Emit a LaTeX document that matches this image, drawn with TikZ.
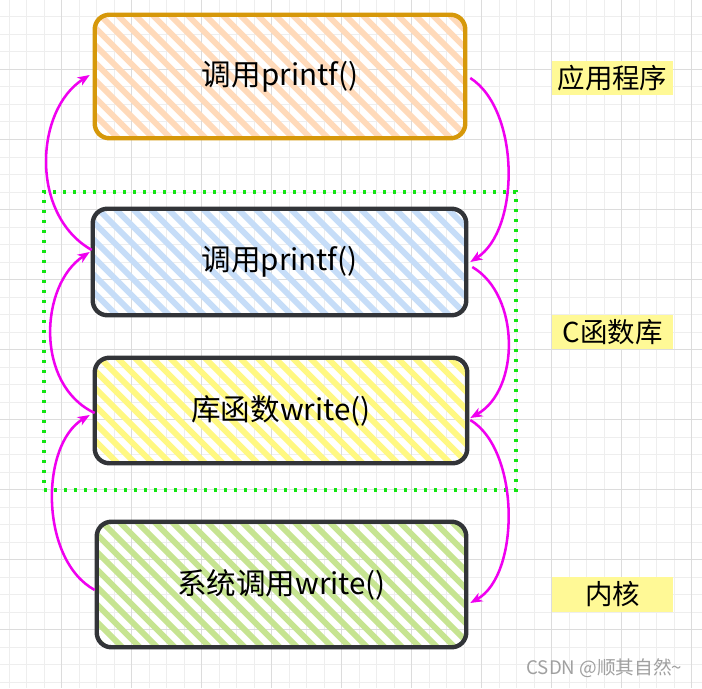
\documentclass[tikz,border=0pt]{standalone}
\usepackage{fontspec}
\setmainfont{Noto Sans CJK SC}
\usetikzlibrary{calc,arrows.meta}
\definecolor{gridminor}{RGB}{238,238,238}
\definecolor{gridmajor}{RGB}{220,220,220}
\definecolor{hatchO}{RGB}{255,218,186}
\definecolor{hatchB}{RGB}{198,221,248}
\definecolor{hatchY}{RGB}{255,248,130}
\definecolor{hatchG}{RGB}{198,228,145}
\definecolor{edgeO}{RGB}{214,152,10}
\definecolor{edgeD}{RGB}{50,52,56}
\definecolor{flowM}{RGB}{240,0,240}
\definecolor{dotG}{RGB}{20,228,20}
\definecolor{tagY}{RGB}{255,249,150}
\definecolor{markG}{RGB}{160,160,160}
\newcommand{\hatchfill}[2]{%
  \begin{scope}
    \clip[rounded corners=11] (#1.north west) rectangle (#1.south east);
    \foreach \k in {0,...,32}
      \draw[#2, line width=4.3pt] ($(#1.north west)+({-140+17.5*\k},-5)$) -- ++(160,160);
  \end{scope}}
\begin{document}
\begin{tikzpicture}[x=0.75pt,y=-0.75pt,
  boxshape/.style={draw=none, inner sep=0pt, font=\fontsize{22.2}{26}\selectfont},
  boxedge/.style={line width=3.3pt, rounded corners=11},
  flow/.style={draw=flowM, line width=1.9pt, -{Stealth[length=9pt,width=7pt,inset=2.5pt]}},
  tag/.style={fill=tagY, inner sep=0pt, minimum width=90.75pt, minimum height=26pt, font=\fontsize{20.6}{24}\selectfont}]
\useasboundingbox (0,0) rectangle (702,688);
\fill[white] (0,0) rectangle (702,688);
% grid
\foreach \k in {0,...,40} {
  \draw[gridminor, line width=0.75pt] ({9.2+17.5*\k},0) -- ({9.2+17.5*\k},688);
  \draw[gridminor, line width=0.75pt] (0,{-0.5+17.5*\k}) -- (702,{-0.5+17.5*\k});
}
\foreach \k in {0,...,10} {
  \draw[gridmajor, line width=0.75pt] ({61.7+70*\k},0) -- ({61.7+70*\k},688);
  \draw[gridmajor, line width=0.75pt] (0,{-0.5+70*\k}) -- (702,{-0.5+70*\k});
}
% boxes
\node[boxshape, minimum width=277.5pt, minimum height=92.25pt] (b1) at (280,76.5) {};
\node[boxshape, minimum width=279.75pt, minimum height=79.5pt] (b2) at (279.5,262) {};
\node[boxshape, minimum width=279pt, minimum height=78.75pt] (b3) at (281,410.5) {};
\node[boxshape, minimum width=276.75pt, minimum height=93.75pt] (b4) at (281.5,584.5) {};
\hatchfill{b1}{hatchO}
\hatchfill{b2}{hatchB}
\hatchfill{b3}{hatchY}
\hatchfill{b4}{hatchG}
\draw[boxedge, draw=edgeO] (b1.north west) rectangle (b1.south east);
\draw[boxedge, draw=edgeD] (b2.north west) rectangle (b2.south east);
\draw[boxedge, draw=edgeD] (b3.north west) rectangle (b3.south east);
\draw[boxedge, draw=edgeD] (b4.north west) rectangle (b4.south east);
\node[boxshape] (t1) at (b1.center) {调用printf()};
\node[boxshape] (t2) at (b2.center) {调用printf()};
\node[boxshape] (t3) at (b3.center) {库函数write()};
\node[boxshape] (t4) at (b4.center) {系统调用write()};
% dotted group
\node[draw=dotG, line width=2.6pt, dash pattern=on 2.6pt off 4.9pt, inner sep=0pt,
  minimum width=354pt, minimum height=223.5pt] (grp) at (280,341) {};
% tags
\node[tag] (l1) at (612.5,78) {应用程序};
\node[tag] (l2) at (612.5,332) {C函数库};
\node[tag] (l3) at (612.5,594.5) {内核};
% arrows
\draw[flow] ($(b2.west)+(-1,-12)$) .. controls +(-62,-35) and +(-55,35) .. ($(b1.west)+(-5,-1.5)$);
\draw[flow] ($(b3.west)+(0,2.5)$) .. controls +(-60,-28) and +(-50,33) .. ($(b2.west)+(-3,-10)$);
\draw[flow] ($(b4.west)+(-2,5.5)$) .. controls +(-55,-30) and +(-50,30) .. ($(b3.west)+(-5,4.5)$);
\draw[flow] ($(b1.east)+(5,1.5)$) .. controls +(50,32) and +(50,-32) .. ($(b2.east)+(4,0)$);
\draw[flow] ($(b2.east)+(6,5)$) .. controls +(48,28) and +(50,-28) .. ($(b3.east)+(3,7.5)$);
\draw[flow] ($(b3.east)+(3,9.5)$) .. controls +(50,30) and +(50,-28) .. ($(b4.east)+(4,18.5)$);
% watermark
\node[text=markG, font=\fontsize{14}{16}\selectfont, anchor=east] (wm) at (687,668) {CSDN @顺其自然\textasciitilde};
\end{tikzpicture}
\end{document}
